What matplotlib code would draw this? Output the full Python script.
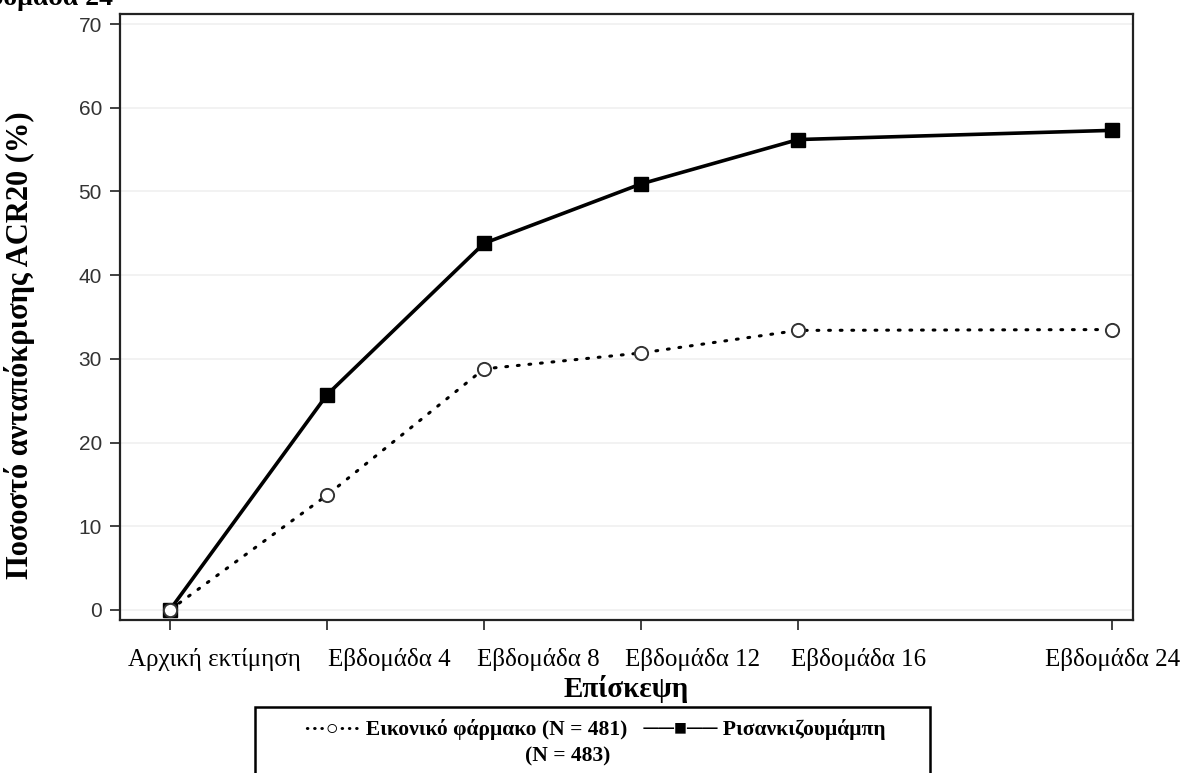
import matplotlib
matplotlib.use("Agg")
import matplotlib.pyplot as plt
from matplotlib.patches import Rectangle
from matplotlib.transforms import ScaledTranslation

weeks = [0, 4, 8, 12, 16, 24]
visit_labels = ["Αρχική εκτίμηση", "Εβδομάδα 4", "Εβδομάδα 8", "Εβδομάδα 12", "Εβδομάδα 16", "Εβδομάδα 24"]
risankizumab = [0.0, 25.7, 43.8, 50.9, 56.2, 57.3]
placebo = [0.0, 13.7, 28.8, 30.7, 33.4, 33.5]
yticks = [0, 10, 20, 30, 40, 50, 60, 70]

W, H = 1185, 773
fig = plt.figure(figsize=(W / 100, H / 100), dpi=100)
serif = ["Liberation Serif", "DejaVu Serif"]
sans = ["Liberation Sans", "DejaVu Sans"]

ax = fig.add_axes([120 / W, 1 - 620 / H, (1133 - 120) / W, (620 - 14) / H])
ax.set_xlim(-1.27, 24.53)
ax.set_ylim(-1.2, 71.2)

for y in yticks:
    ax.axhline(y, color="#f0f0f0", lw=1.2, zorder=0)

ax.plot(weeks, risankizumab, color="black", lw=2.6, marker="s", markersize=10,
        markerfacecolor="black", markeredgecolor="black", zorder=3)
ax.plot(weeks, placebo, color="black", lw=2.2, linestyle=(0, (0.6, 3.2)),
        dash_capstyle="round", marker="o", markersize=9.5,
        markerfacecolor="white", markeredgecolor="#333333", markeredgewidth=1.4, zorder=4)

ax.set_xticks(weeks)
ax.set_xticklabels(visit_labels, fontfamily=serif, fontsize=18)
ax.set_yticks(yticks)
ax.set_yticklabels([str(v) for v in yticks], fontfamily=sans, fontsize=15, color="#333333")
ax.tick_params(axis="both", direction="out", length=7, width=1.3, color="#333333")
ax.tick_params(axis="x", pad=13)
ax.tick_params(axis="y", pad=6)
for s in ax.spines.values():
    s.set_linewidth(1.6)
    s.set_color("#222222")

# the visit labels in the source sit shifted to the right of their ticks
label_shift_px = [45, 62, 54, 52, 60, 0]
for lab, dx in zip(ax.get_xticklabels(), label_shift_px):
    lab.set_transform(lab.get_transform() + ScaledTranslation(dx / 100, 0, fig.dpi_scale_trans))

ax.set_xlabel("Επίσκεψη", fontfamily=serif, fontsize=21, fontweight="bold", labelpad=3)
fig.text(20 / W, 1 - 345 / H, "Ποσοστό ανταπόκρισης ACR20 (%)", rotation=90,
         ha="center", va="center", fontfamily=serif, fontsize=22, fontweight="bold")

fig.text(113 / W, 1 - 5 / H, "Εβδομάδα 24", ha="right", va="baseline",
         fontfamily=serif, fontsize=20, fontweight="bold")

# legend box
box = Rectangle((255 / W, -0.05), (930 - 255) / W, 0.05 + (1 - 707 / H),
                transform=fig.transFigure, fill=False, lw=1.8, edgecolor="black", clip_on=False)
fig.patches.append(box)
fig.text(595 / W, 1 - 729 / H, "···○··· Εικονικό φάρμακο (N = 481)   ──■── Ρισανκιζουμάμπη",
         ha="center", va="center", fontfamily=serif, fontsize=15.5, fontweight="bold")
fig.text(568 / W, 1 - 756 / H, "(N = 483)", ha="center", va="center",
         fontfamily=serif, fontsize=15.5, fontweight="bold")

fig.savefig("out.png", dpi=100)
